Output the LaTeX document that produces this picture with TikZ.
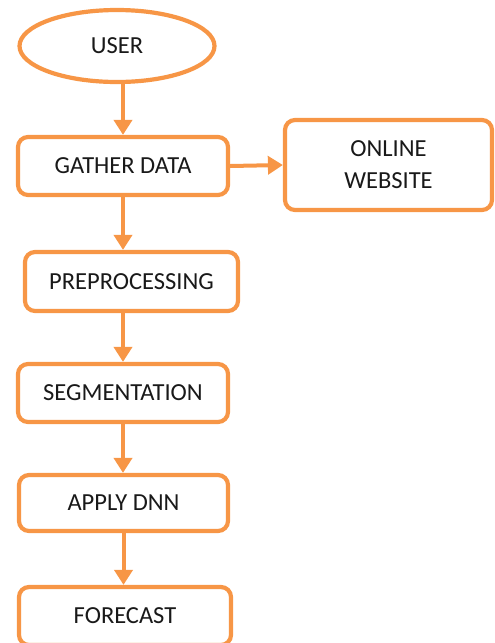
\documentclass[tikz,border=0pt]{standalone}
\usepackage{fontspec}
\setmainfont{Carlito}
\usepackage{tikz}
\usetikzlibrary{positioning,arrows.meta,shapes.geometric}
\definecolor{flowOrange}{RGB}{247,150,70}

\tikzset{
  term/.style={ellipse,draw=flowOrange,line width=4.2pt,fill=white,
    minimum width=195pt,minimum height=72pt,inner sep=0pt},
  proc/.style={rectangle,rounded corners=10pt,draw=flowOrange,line width=4.2pt,
    fill=white,minimum width=210pt,minimum height=58pt,inner sep=0pt,align=center},
  flow/.style={draw=flowOrange,line width=4pt,
    -{Triangle[length=15pt,width=18pt]}},
}

\begin{document}
\begin{tikzpicture}[x=1pt,y=1pt,
    every node/.style={font=\fontsize{24.5}{32}\selectfont,text=black!90}]
   \useasboundingbox (0,0) rectangle (495,-643);
   \node[term] (user) at (117,-46) {USER};
   \node[proc] (gather) at (123,-166) {GATHER DATA};
   \node[proc, minimum width=207pt, minimum height=90pt] (web) at (388.5,-165) {ONLINE\\WEBSITE};
   \node[proc, minimum width=213pt, minimum height=59pt] (prep) at (131.5,-281.5) {PREPROCESSING};
   \node[proc] (seg) at (123,-393) {SEGMENTATION};
   \node[proc, minimum width=209pt, minimum height=56pt] (dnn) at (123.5,-503) {APPLY DNN};
   \node[proc, minimum width=212pt] (fc) at (125,-616) {FORECAST};
   \draw[flow] (gather.north |- user.south) -- (gather.north);
   \draw[flow] (gather.south) -- (gather.south |- prep.north);
   \draw[flow] (gather.east) -- (web.west);
   \draw[flow] (seg.north |- prep.south) -- (seg.north);
   \draw[flow] (seg.south) -- (seg.south |- dnn.north);
   \draw[flow] (dnn.south) -- (dnn.south |- fc.north);
\end{tikzpicture}
\end{document}
